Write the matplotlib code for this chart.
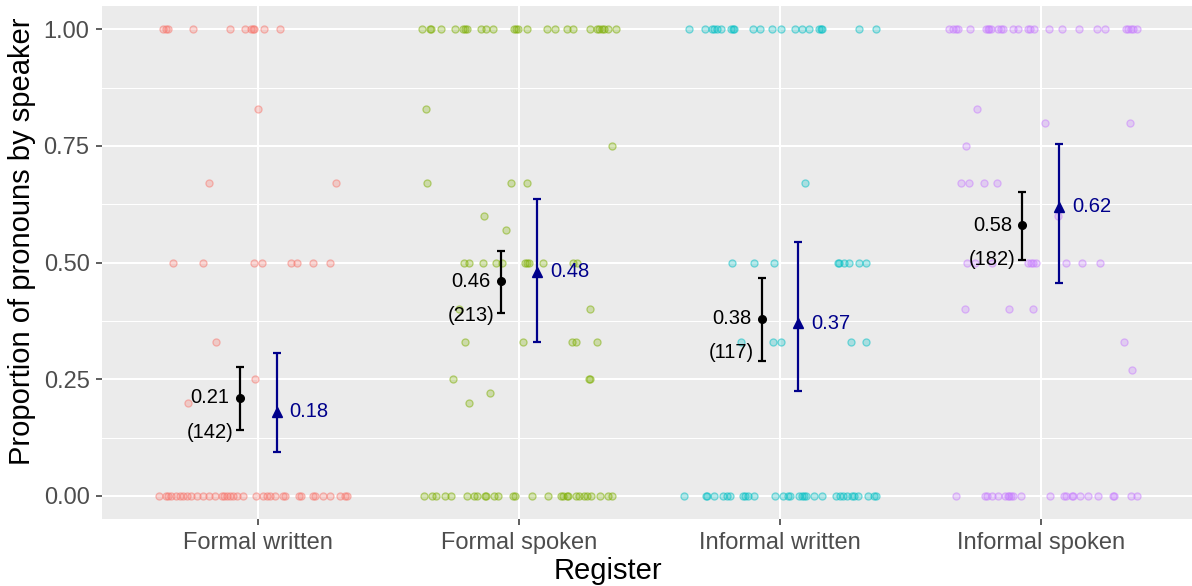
import matplotlib
matplotlib.use("Agg")
import matplotlib.pyplot as plt
import numpy as np

plt.rcParams["font.family"] = ["Liberation Sans", "DejaVu Sans"]

registers = ["Formal written", "Formal spoken", "Informal written", "Informal spoken"]
point_colors = ["#F8766D", "#7CAE00", "#00BFC4", "#C77CFF"]

# Per-speaker proportions and their horizontal jitter (category units)
fw_prop = [1.00, 1.00, 1.00, 1.00, 1.00, 1.00, 1.00, 1.00, 1.00, 1.00, 1.00,
           0.83, 0.67, 0.67,
           0.50, 0.50, 0.50, 0.50, 0.50, 0.50, 0.50, 0.50,
           0.33, 0.25, 0.20,
           0.00, 0.00, 0.00, 0.00, 0.00, 0.00, 0.00, 0.00, 0.00, 0.00, 0.00, 0.00,
           0.00, 0.00, 0.00, 0.00, 0.00, 0.00, 0.00, 0.00, 0.00, 0.00, 0.00, 0.00,
           0.00, 0.00, 0.00, 0.00, 0.00, 0.00, 0.00, 0.00, 0.00, 0.00, 0.00, 0.00]
fw_jit = [-0.364, -0.355, -0.347, -0.249, -0.110, -0.050, -0.028, -0.021, -0.018, 0.023, 0.082,
          -0.002, -0.188, 0.298,
          -0.328, -0.213, -0.016, 0.013, 0.124, 0.147, 0.211, 0.276,
          -0.161, -0.013, -0.271,
          -0.380, -0.354, -0.345, -0.336, -0.316, -0.300, -0.288, -0.272, -0.259, -0.236, -0.213, -0.189,
          -0.166, -0.140, -0.132, -0.121, -0.109, -0.096, -0.081, -0.058, -0.009, 0.019, 0.032, 0.045,
          0.064, 0.094, 0.102, 0.157, 0.164, 0.211, 0.217, 0.247, 0.275, 0.313, 0.332, 0.341]

fs_prop = [1.00, 1.00, 1.00, 1.00, 1.00, 1.00, 1.00, 1.00, 1.00, 1.00, 1.00, 1.00, 1.00,
           1.00, 1.00, 1.00, 1.00, 1.00, 1.00, 1.00, 1.00, 1.00, 1.00, 1.00, 1.00, 1.00,
           0.83, 0.75, 0.67, 0.67, 0.67, 0.60, 0.57,
           0.50, 0.50, 0.50, 0.50, 0.50, 0.50, 0.50, 0.50, 0.50, 0.50, 0.50,
           0.40, 0.40,
           0.33, 0.33, 0.33, 0.33, 0.33,
           0.25, 0.25, 0.25, 0.22, 0.20,
           0.00, 0.00, 0.00, 0.00, 0.00, 0.00, 0.00, 0.00, 0.00, 0.00, 0.00, 0.00, 0.00, 0.00,
           0.00, 0.00, 0.00, 0.00, 0.00, 0.00, 0.00, 0.00, 0.00, 0.00, 0.00, 0.00, 0.00, 0.00]
fs_jit = [-0.372, -0.342, -0.336, -0.301, -0.245, -0.215, -0.208, -0.199, -0.147, -0.128, -0.101, -0.018, -0.010,
          -0.004, 0.032, 0.107, 0.136, 0.182, 0.207, 0.270, 0.297, 0.307, 0.316, 0.325, 0.339, 0.371,
          -0.358, 0.357, -0.354, -0.032, 0.032, -0.135, -0.051,
          -0.212, -0.192, -0.138, -0.090, -0.065, 0.023, 0.032, 0.037, 0.091, 0.205, 0.222,
          -0.231, 0.272,
          -0.208, 0.015, 0.201, 0.220, 0.298,
          -0.253, 0.268, 0.271, -0.111, -0.192,
          -0.364, -0.334, -0.317, -0.285, -0.263, -0.199, -0.173, -0.163, -0.132, -0.125, -0.097, -0.081, -0.023, -0.016,
          0.048, 0.111, 0.159, 0.169, 0.182, 0.188, 0.220, 0.230, 0.248, 0.261, 0.274, 0.312, 0.341, 0.357]

iw_prop = [1.00, 1.00, 1.00, 1.00, 1.00, 1.00, 1.00, 1.00, 1.00, 1.00, 1.00,
           1.00, 1.00, 1.00, 1.00, 1.00, 1.00, 1.00, 1.00, 1.00, 1.00,
           0.67,
           0.50, 0.50, 0.50, 0.50, 0.50, 0.50, 0.50, 0.50, 0.50,
           0.33, 0.33, 0.33, 0.33, 0.33,
           0.00, 0.00, 0.00, 0.00, 0.00, 0.00, 0.00, 0.00, 0.00, 0.00, 0.00, 0.00, 0.00, 0.00, 0.00, 0.00,
           0.00, 0.00, 0.00, 0.00, 0.00, 0.00, 0.00, 0.00, 0.00, 0.00, 0.00, 0.00, 0.00, 0.00, 0.00]
iw_jit = [-0.348, -0.288, -0.260, -0.253, -0.243, -0.224, -0.189, -0.181, -0.176, -0.102, -0.077,
          -0.030, 0.005, 0.058, 0.084, 0.111, 0.150, 0.156, 0.161, 0.303, 0.369,
          0.095,
          -0.185, -0.099, -0.023, 0.221, 0.227, 0.245, 0.266, 0.304, 0.330,
          -0.151, -0.028, 0.004, 0.272, 0.332,
          -0.368, -0.285, -0.281, -0.252, -0.217, -0.202, -0.192, -0.141, -0.134, -0.122, -0.099, -0.020, 0.010, 0.032, 0.038, 0.074,
          0.084, 0.092, 0.100, 0.132, 0.162, 0.215, 0.230, 0.243, 0.256, 0.275, 0.284, 0.300, 0.339, 0.362, 0.368]

is_prop = [1.00, 1.00, 1.00, 1.00, 1.00, 1.00, 1.00, 1.00, 1.00, 1.00, 1.00, 1.00, 1.00, 1.00,
           1.00, 1.00, 1.00, 1.00, 1.00, 1.00, 1.00, 1.00, 1.00, 1.00, 1.00, 1.00, 1.00,
           0.83, 0.80, 0.80, 0.75, 0.67, 0.67, 0.67, 0.67, 0.60,
           0.50, 0.50, 0.50, 0.50, 0.50, 0.50, 0.50, 0.50, 0.50, 0.50,
           0.40, 0.40, 0.40, 0.33, 0.27,
           0.00, 0.00, 0.00, 0.00, 0.00, 0.00, 0.00, 0.00, 0.00, 0.00, 0.00, 0.00,
           0.00, 0.00, 0.00, 0.00, 0.00, 0.00, 0.00, 0.00, 0.00, 0.00, 0.00]
is_jit = [-0.350, -0.335, -0.325, -0.316, -0.272, -0.210, -0.203, -0.197, -0.191, -0.163, -0.153, -0.143, -0.107, -0.086,
          -0.048, -0.041, -0.026, 0.031, 0.082, 0.148, 0.217, 0.247, 0.327, 0.336, 0.345, 0.355, 0.368,
          -0.244, 0.018, 0.344, -0.288, -0.306, -0.275, -0.219, -0.168, 0.065,
          -0.281, -0.252, -0.188, -0.048, -0.038, -0.028, -0.019, 0.096, 0.160, 0.227,
          -0.291, -0.120, -0.028, 0.321, 0.350,
          -0.326, -0.214, -0.207, -0.188, -0.163, -0.137, -0.127, -0.120, -0.114, -0.107, -0.077, 0.036,
          0.089, 0.097, 0.119, 0.125, 0.151, 0.183, 0.221, 0.276, 0.282, 0.346, 0.368]

speaker_props = [fw_prop, fs_prop, iw_prop, is_prop]
speaker_jitter = [fw_jit, fs_jit, iw_jit, is_jit]

# Pooled (token-based) estimates with confidence intervals
pooled_mean = [0.21, 0.46, 0.38, 0.58]
pooled_lo = [0.142, 0.392, 0.290, 0.506]
pooled_hi = [0.277, 0.526, 0.467, 0.651]
pooled_n = [142, 213, 117, 182]

# Speaker-averaged estimates with confidence intervals
speaker_mean = [0.18, 0.48, 0.37, 0.62]
speaker_lo = [0.095, 0.329, 0.225, 0.457]
speaker_hi = [0.307, 0.637, 0.545, 0.755]

W, H, DPI = 1192, 586, 100
fig = plt.figure(figsize=(W / DPI, H / DPI), dpi=DPI)
left_px, right_px, top_px, bottom_px = 101.8, 1197.2, 6.0, 519.3
ax = fig.add_axes([left_px / W, 1 - bottom_px / H,
                   (right_px - left_px) / W, (bottom_px - top_px) / H])
ax.set_facecolor("#EBEBEB")
for s in ax.spines.values():
    s.set_visible(False)

x = np.arange(1, len(registers) + 1)
ax.set_xlim(0.4, 4.6)
ax.set_ylim(-0.05, 1.05)

# grid
for yv in [0.125, 0.375, 0.625, 0.875]:
    ax.axhline(yv, color="white", lw=0.75, zorder=0)
for yv in [0.0, 0.25, 0.5, 0.75, 1.0]:
    ax.axhline(yv, color="white", lw=1.5, zorder=0)
for xv in x:
    ax.axvline(xv, color="white", lw=1.5, zorder=0)

# individual speakers
for i, (props, jit) in enumerate(zip(speaker_props, speaker_jitter)):
    xs = x[i] + np.asarray(jit)
    ax.scatter(xs, props, s=26, facecolor=matplotlib.colors.to_rgba(point_colors[i], 0.28),
               edgecolor=matplotlib.colors.to_rgba(point_colors[i], 0.5), linewidth=0.9, zorder=2)

dodge = 0.07
# pooled estimate
ax.errorbar(x - dodge, pooled_mean,
            yerr=[np.subtract(pooled_mean, pooled_lo), np.subtract(pooled_hi, pooled_mean)],
            fmt="o", color="black", ms=5.5, elinewidth=1.6, capsize=3.2, capthick=1.6, zorder=4)
# speaker-averaged estimate
ax.errorbar(x + dodge, speaker_mean,
            yerr=[np.subtract(speaker_mean, speaker_lo), np.subtract(speaker_hi, speaker_mean)],
            fmt="^", color="#00008B", ms=7.5, elinewidth=1.6, capsize=3.2, capthick=1.6, zorder=4)

for i in range(len(registers)):
    ax.annotate(f"{pooled_mean[i]:.2f}", (x[i] - dodge, pooled_mean[i]), xytext=(-21.6, 0),
                textcoords="offset points", ha="center", va="center", fontsize=14.5, color="black", zorder=5)
    ax.annotate(f"({pooled_n[i]})", (x[i] - dodge, pooled_mean[i]), xytext=(-21.6, -24.5),
                textcoords="offset points", ha="center", va="center", fontsize=14.5, color="black", zorder=5)
    ax.annotate(f"{speaker_mean[i]:.2f}", (x[i] + dodge, speaker_mean[i]), xytext=(9.4, 0),
                textcoords="offset points", ha="left", va="center", fontsize=14.5, color="#00008B", zorder=5)

ax.set_xticks(x)
ax.set_xticklabels(registers)
ax.set_yticks([0, 0.25, 0.5, 0.75, 1.0])
ax.set_yticklabels(["0.00", "0.25", "0.50", "0.75", "1.00"])
ax.tick_params(axis="both", length=4.3, width=1.1, color="#333333", labelcolor="#4D4D4D",
               labelsize=17, pad=4.5)

fig.text(608 / W, 1 - 571 / H, "Register", ha="center", va="center", fontsize=21, color="black")
fig.text(22 / W, 1 - 241.5 / H, "Proportion of pronouns by speaker", ha="center", va="center",
         rotation=90, fontsize=21, color="black")

fig.savefig("out.png", dpi=DPI)
